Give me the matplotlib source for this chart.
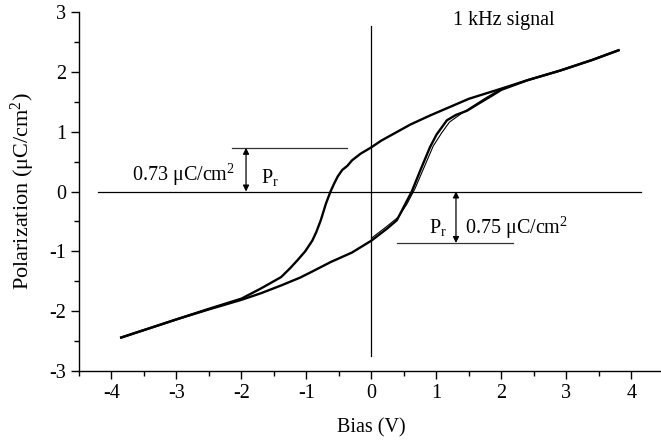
import matplotlib
matplotlib.use("Agg")
import matplotlib.pyplot as plt
from matplotlib.ticker import MultipleLocator

# descending branch (from +V to -V)
down_x = [3.8, 3.4, 2.9, 2.4, 2.0, 1.5, 0.9, 0.6, 0.35, 0.15, 0.0, -0.17, -0.3, -0.37, -0.45,
          -0.52, -0.58, -0.63, -0.7, -0.78, -0.85, -0.91, -1.02, -1.14, -1.25, -1.39, -1.7,
          -2.0, -2.5, -2.98, -3.4, -3.85]
down_y = [2.36, 2.2, 2.02, 1.86, 1.72, 1.55, 1.27, 1.12, 0.97, 0.85, 0.74, 0.63, 0.52, 0.43,
          0.36, 0.25, 0.12, 0.0, -0.2, -0.48, -0.68, -0.82, -1.0, -1.15, -1.28, -1.43, -1.62,
          -1.79, -1.96, -2.13, -2.28, -2.44]
# ascending branch (from -V to +V)
up_x = [-3.85, -3.4, -2.98, -2.5, -2.0, -1.7, -1.39, -1.1, -0.88, -0.63, -0.3, 0.0, 0.12,
        0.24, 0.39, 0.5, 0.62, 0.75, 0.9, 1.0, 1.16, 1.3, 1.47, 1.65, 1.82, 2.0, 2.4, 2.9,
        3.4, 3.8]
up_y = [-2.44, -2.28, -2.13, -1.97, -1.81, -1.7, -1.57, -1.44, -1.32, -1.18, -1.02, -0.82,
        -0.72, -0.62, -0.48, -0.25, 0.0, 0.35, 0.74, 0.95, 1.19, 1.28, 1.35, 1.47, 1.58,
        1.70, 1.86, 2.02, 2.2, 2.36]
# second cycle of the ascending switching part (slightly shifted)
up2_x = [0.0, 0.24, 0.42, 0.55, 0.67, 0.8, 0.95, 1.08, 1.2, 1.38, 1.55, 1.75, 2.0]
up2_y = [-0.78, -0.58, -0.42, -0.2, 0.05, 0.38, 0.76, 0.98, 1.16, 1.3, 1.42, 1.56, 1.72]

pr_up = 0.73
pr_down = -0.86

plt.rcParams['font.family'] = ['Liberation Serif', 'DejaVu Serif']
plt.rcParams['mathtext.fontset'] = 'custom'
plt.rcParams['mathtext.rm'] = 'Liberation Serif'
plt.rcParams['mathtext.it'] = 'Liberation Serif:italic'
plt.rcParams['axes.unicode_minus'] = False
plt.rcParams['font.size'] = 14.5

fig = plt.figure(figsize=(6.61, 4.41), dpi=100)
ax = fig.add_axes([0.1195, 0.1587, 0.885, 0.8141])

ax.plot(down_x, down_y, color='black', lw=1.7)
ax.plot(up_x, up_y, color='black', lw=1.7)
ax.plot(up2_x, up2_y, color='black', lw=0.8)

# zero lines
ax.plot([-4.2, 4.15], [0, 0], color='black', lw=0.9)
ax.plot([0, 0], [-2.75, 2.76], color='black', lw=0.9)

# Pr markers
ax.plot([-2.15, -0.37], [pr_up, pr_up], color='#333333', lw=0.9)
ax.plot([0.39, 2.18], [pr_down, pr_down], color='#333333', lw=0.9)
ax.annotate('', xy=(-1.93, pr_up), xytext=(-1.93, 0),
            arrowprops=dict(arrowstyle='<|-|>', color='black', lw=0.9, mutation_scale=9,
                            shrinkA=0, shrinkB=0))
ax.annotate('', xy=(1.3, pr_down), xytext=(1.3, 0),
            arrowprops=dict(arrowstyle='<|-|>', color='black', lw=0.9, mutation_scale=9,
                            shrinkA=0, shrinkB=0))

ax.text(-3.69, 0.18, '0.73 μC/cm$^2$', fontsize=14.5)
ax.text(-1.70, 0.15, r'P$_\mathrm{r}$', fontsize=14.5)
ax.text(0.88, -0.70, r'P$_\mathrm{r}$', fontsize=14.5)
ax.text(1.44, -0.70, '0.75 μC/cm$^2$', fontsize=14.5)
ax.text(1.26, 2.78, '1 kHz signal', fontsize=14.5)

ax.set_xlim(-4.5, 4.5)
ax.set_ylim(-3, 3)
ax.xaxis.set_major_locator(MultipleLocator(1))
ax.xaxis.set_minor_locator(MultipleLocator(0.5))
ax.yaxis.set_major_locator(MultipleLocator(1))
ax.yaxis.set_minor_locator(MultipleLocator(0.5))
ax.tick_params(which='major', direction='out', length=5.5, width=1, labelsize=14.5)
ax.tick_params(which='minor', direction='out', length=3.5, width=1)
ax.spines['top'].set_visible(False)
ax.spines['right'].set_visible(False)
ax.spines['left'].set_linewidth(1)
ax.spines['bottom'].set_linewidth(1)

ax.set_xlabel('Bias (V)', fontsize=14.5, labelpad=11)
ax.set_ylabel('Polarization (μC/cm$^2$)', fontsize=16, labelpad=9)

fig.savefig('out.png', dpi=100)
